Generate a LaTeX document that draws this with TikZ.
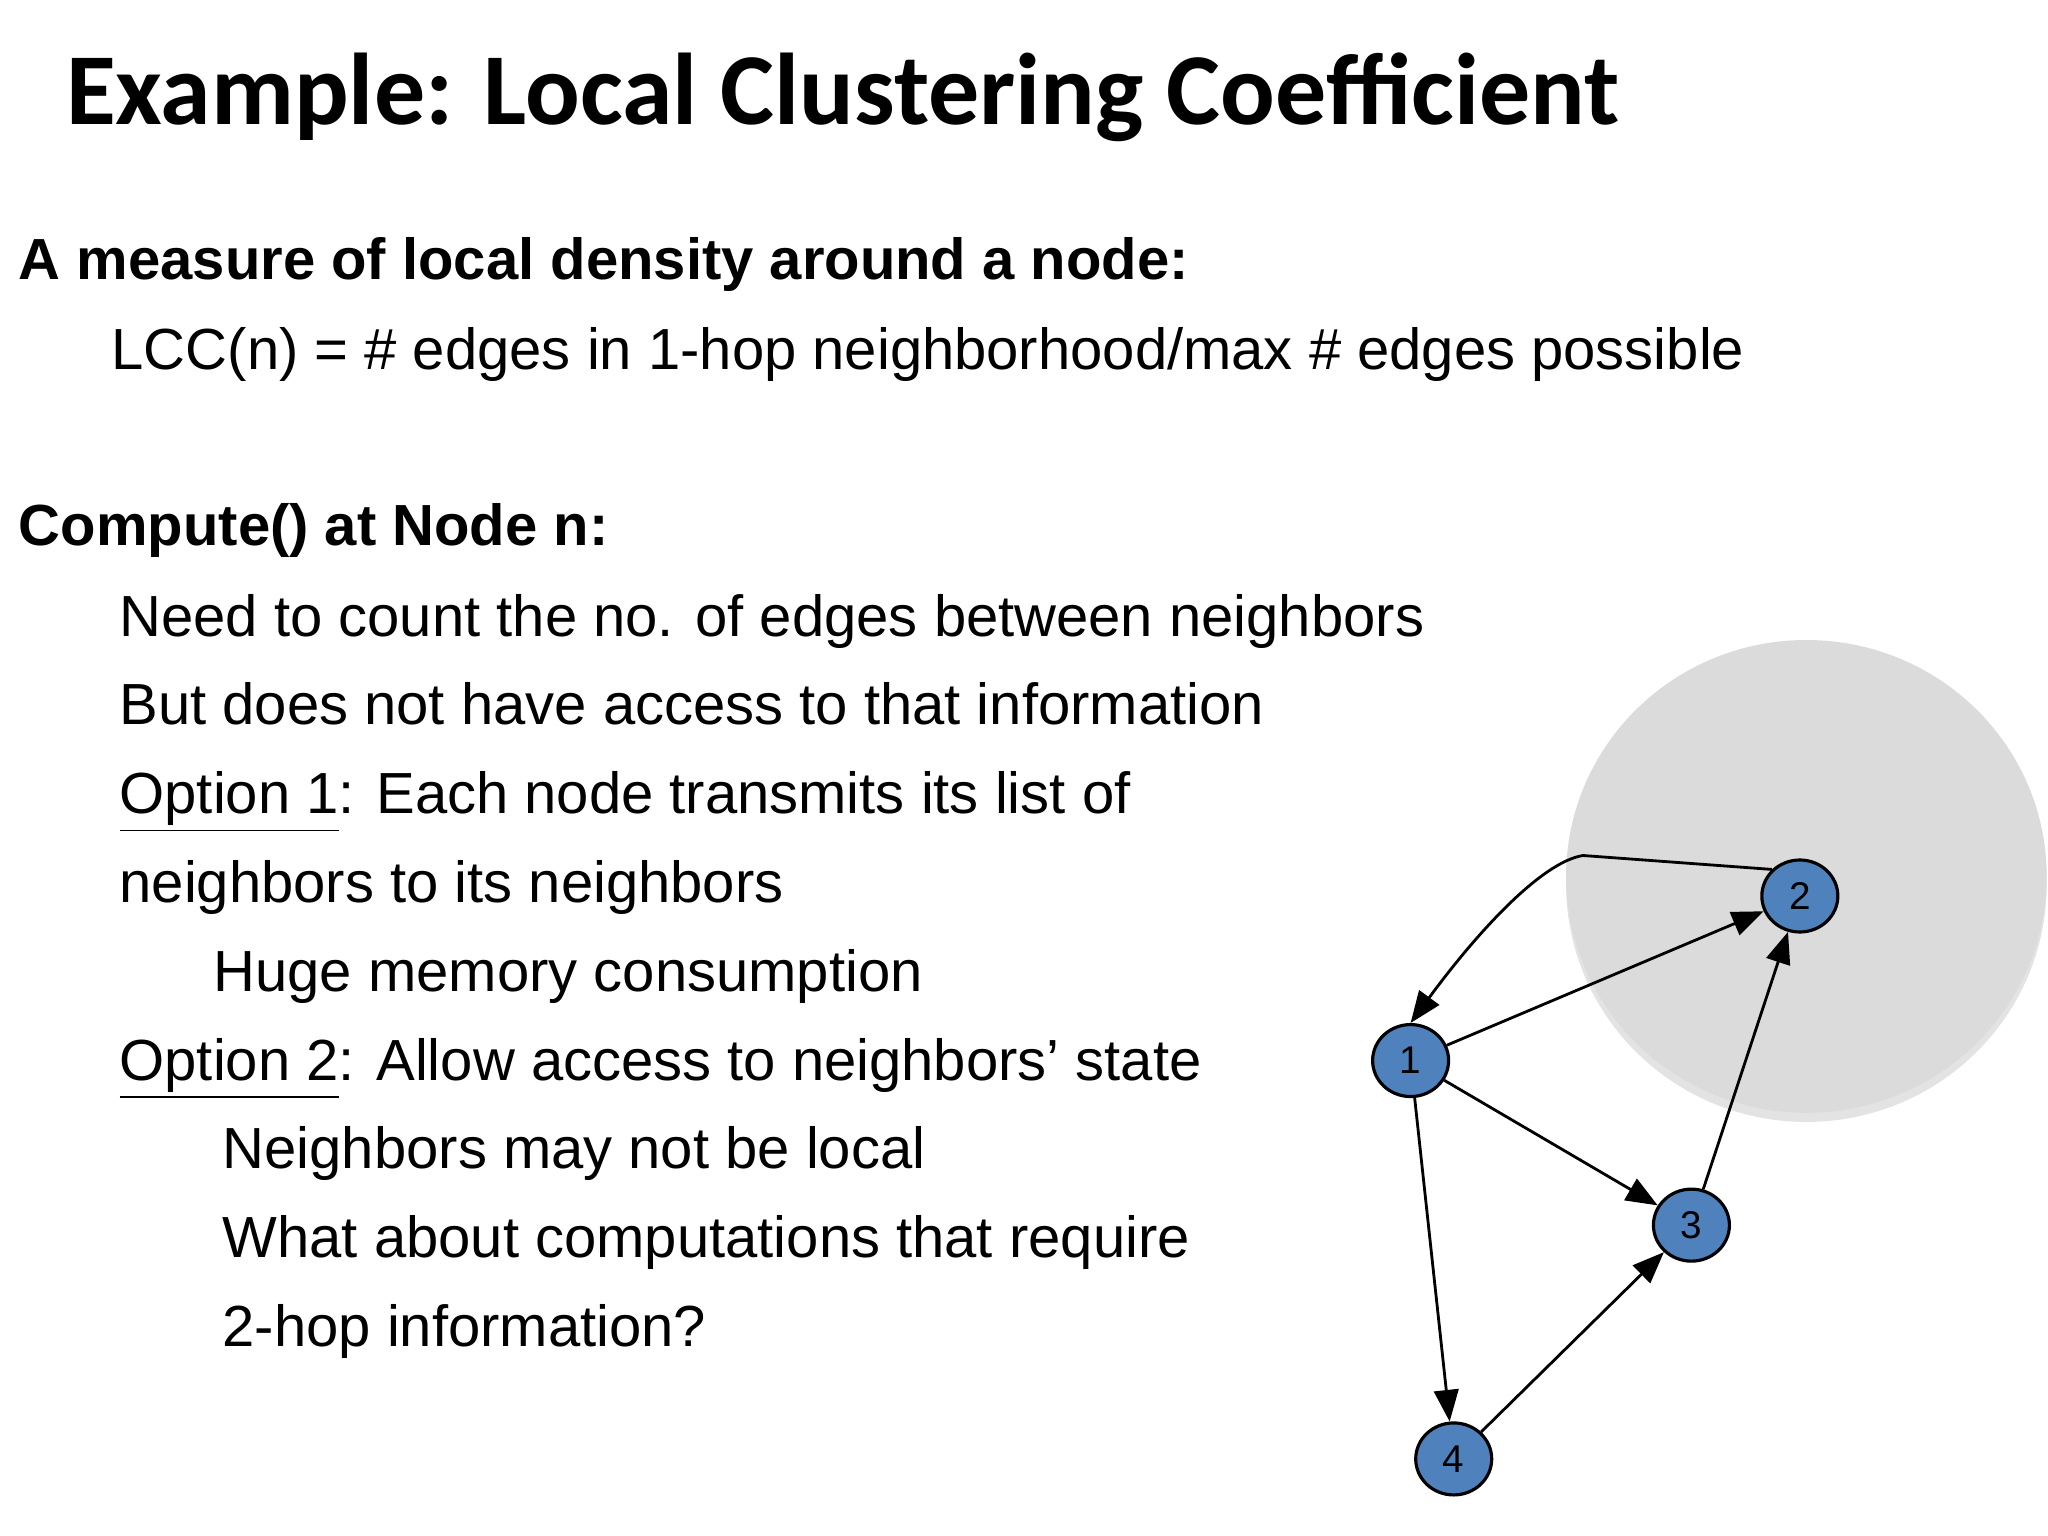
\documentclass[tikz,border=0pt]{standalone}
\usepackage{fontspec}
\setmainfont{Liberation Sans}
\newfontfamily\titlefont{Carlito}
\usetikzlibrary{arrows.meta,shapes.geometric}
\begin{document}
\begin{tikzpicture}[x=0.013061cm,y=-0.013061cm,
  txt/.style={anchor=base west,inner sep=0pt,font=\fontsize{16.5}{18}\selectfont},
  vtx/.style={ellipse,draw=black,line width=0.9pt,fill={rgb,255:red,79;green,129;blue,189},minimum width=0.76cm,minimum height=0.72cm,inner sep=0pt,font=\fontsize{11}{12}\selectfont},
  edge/.style={-{Triangle[length=9pt,width=7pt]},line width=0.8pt}]
\useasboundingbox (0,0) rectangle (1568,1176);
\node[anchor=base west,inner sep=0pt,font=\titlefont\bfseries\fontsize{29}{32}\selectfont] (title) at (50,95) {Example: Local Clustering Coefficient};
\node[txt,font=\bfseries\fontsize{16.5}{18}\selectfont] (t1) at (14,214) {A measure of local density around a node:};
\node[txt] (t2) at (85,283) {LCC(n) = \# edges in 1-hop neighborhood/max \# edges possible};
\node[txt,font=\bfseries\fontsize{16.5}{18}\selectfont] (t3) at (14,418) {Compute() at Node n:};
\node[txt] (t4) at (91,487) {Need to count the no. of edges between neighbors};
\node[txt] (t5) at (91,555) {But does not have access to that information};
\node[txt] (t6) at (91,623) {\underline{Option 1}: Each node transmits its list of};
\node[txt] (t7) at (91,691) {neighbors to its neighbors};
\node[txt] (t8) at (163,759) {Huge memory consumption};
\node[txt] (t9) at (91,827) {\underline{Option 2}: Allow access to neighbors’ state};
\node[txt] (t10) at (170,895) {Neighbors may not be local};
\node[txt] (t11) at (170,963) {What about computations that require};
\node[txt] (t12) at (170,1031) {2-hop information?};
% neighborhood disc
\fill[black!18,opacity=0.6] (1383,677) ellipse [x radius=184,y radius=182];
\node[ellipse,fill=black!14,minimum width=4.806cm,minimum height=4.728cm,inner sep=0pt] (hood) at (1383,671) {};
% graph
\node[vtx] (n1) at (1080,812) {1};
\node[vtx] (n2) at (1378,686) {2};
\node[vtx] (n3) at (1295,938) {3};
\node[vtx] (n4) at (1113,1117) {4};
\coordinate (bend) at (1212,655);
\draw[edge] (n1) -- (n2);
\draw[edge] (n1) -- (n3);
\draw[edge] (n1) -- (n4);
\draw[edge] (n4) -- (n3);
\draw[edge] (n3) -- (n2);
\draw[edge] (n2.north west) -- (bend) .. controls (1180,660) and (1130,715) .. (n1.north);
\end{tikzpicture}
\end{document}
